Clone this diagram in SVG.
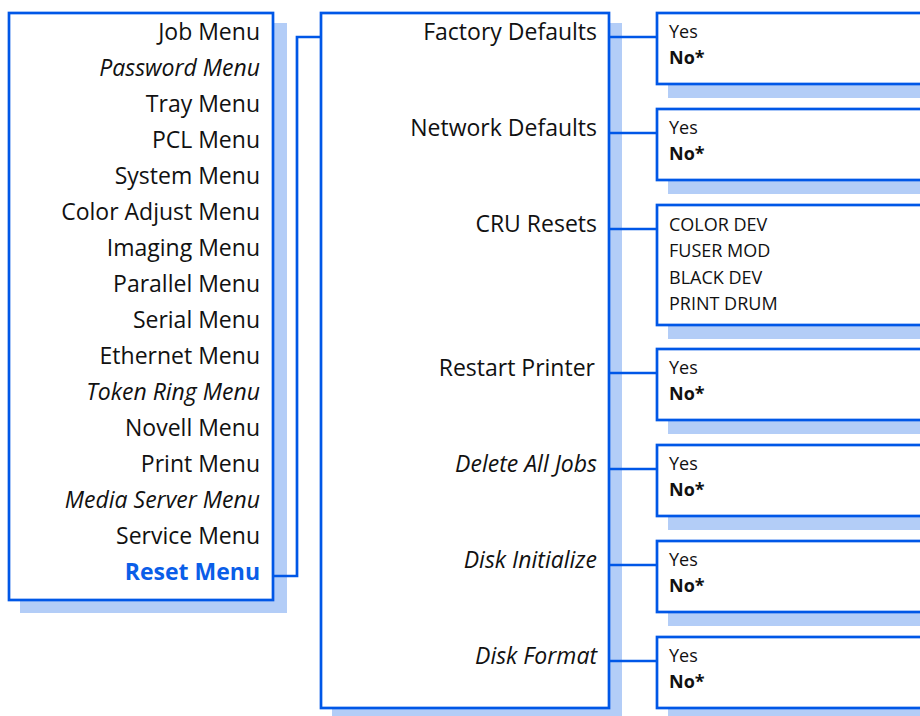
<svg xmlns="http://www.w3.org/2000/svg" width="920" height="716" viewBox="0 0 920 716">
<style>
.shadow{fill:#b3cdf7;stroke:none}
.box{fill:#fff;stroke:#0057e7;stroke-width:2.7}
.conn{fill:none;stroke:#0057e7;stroke-width:2.7}
text{font-family:"Open Sans","Noto Sans","Liberation Sans",sans-serif;fill:#111}
.menu{font-size:23px;text-anchor:end}
.opt{font-size:18px}
.it{font-style:italic}
.b{font-weight:bold}
.sel{fill:#0a5ee8;font-weight:bold}
</style>
<rect width="920" height="716" fill="#fff"/>
<g id="main-menu">
<rect class="shadow" x="20" y="23" width="267" height="590"/>
<rect class="box" x="9" y="13" width="264" height="587"/>
<text class="menu" x="260" y="40">Job Menu</text>
<text class="menu it" x="260" y="76">Password Menu</text>
<text class="menu" x="260" y="112">Tray Menu</text>
<text class="menu" x="260" y="148">PCL Menu</text>
<text class="menu" x="260" y="184">System Menu</text>
<text class="menu" x="260" y="220">Color Adjust Menu</text>
<text class="menu" x="260" y="256">Imaging Menu</text>
<text class="menu" x="260" y="292">Parallel Menu</text>
<text class="menu" x="260" y="328">Serial Menu</text>
<text class="menu" x="260" y="364">Ethernet Menu</text>
<text class="menu it" x="260" y="400">Token Ring Menu</text>
<text class="menu" x="260" y="436">Novell Menu</text>
<text class="menu" x="260" y="472">Print Menu</text>
<text class="menu it" x="260" y="508">Media Server Menu</text>
<text class="menu" x="260" y="544">Service Menu</text>
<text class="menu sel" x="260" y="580">Reset Menu</text>
</g>
<g id="reset-menu">
<rect class="shadow" x="332" y="23" width="290" height="710"/>
<rect class="box" x="321" y="13" width="288" height="695"/>
<text class="menu" x="597" y="40">Factory Defaults</text>
<text class="menu" x="597" y="136">Network Defaults</text>
<text class="menu" x="597" y="232">CRU Resets</text>
<text class="menu" x="595" y="376">Restart Printer</text>
<text class="menu it" x="597" y="472">Delete All Jobs</text>
<text class="menu it" x="597" y="568">Disk Initialize</text>
<text class="menu it" x="597" y="664">Disk Format</text>
</g>
<g id="opt-factory">
<rect class="shadow" x="668" y="85" width="270" height="13"/>
<rect class="box" x="657" y="13" width="280" height="71"/>
<text class="opt" x="669" y="38">Yes</text>
<text class="opt b" x="669" y="64">No*</text>
</g>
<g id="opt-network">
<rect class="shadow" x="668" y="181" width="270" height="13"/>
<rect class="box" x="657" y="109" width="280" height="71"/>
<text class="opt" x="669" y="134">Yes</text>
<text class="opt b" x="669" y="160">No*</text>
</g>
<g id="opt-cru">
<rect class="shadow" x="668" y="326" width="270" height="13"/>
<rect class="box" x="657" y="205" width="280" height="120"/>
<text class="opt" x="669" y="231">COLOR DEV</text>
<text class="opt" x="669" y="257">FUSER MOD</text>
<text class="opt" x="669" y="284">BLACK DEV</text>
<text class="opt" x="669" y="310">PRINT DRUM</text>
</g>
<g id="opt-restart">
<rect class="shadow" x="668" y="421" width="270" height="13"/>
<rect class="box" x="657" y="349" width="280" height="71"/>
<text class="opt" x="669" y="374">Yes</text>
<text class="opt b" x="669" y="400">No*</text>
</g>
<g id="opt-delete">
<rect class="shadow" x="668" y="517" width="270" height="13"/>
<rect class="box" x="657" y="445" width="280" height="71"/>
<text class="opt" x="669" y="470">Yes</text>
<text class="opt b" x="669" y="496">No*</text>
</g>
<g id="opt-init">
<rect class="shadow" x="668" y="613" width="270" height="13"/>
<rect class="box" x="657" y="541" width="280" height="71"/>
<text class="opt" x="669" y="566">Yes</text>
<text class="opt b" x="669" y="592">No*</text>
</g>
<g id="opt-format">
<rect class="shadow" x="668" y="709" width="270" height="13"/>
<rect class="box" x="657" y="637" width="280" height="71"/>
<text class="opt" x="669" y="662">Yes</text>
<text class="opt b" x="669" y="688">No*</text>
</g>
<g id="connectors">
<polyline class="conn" points="274,576 297,576 297,37 321,37"/>
<line class="conn" x1="610" y1="37" x2="657" y2="37"/>
<line class="conn" x1="610" y1="133" x2="657" y2="133"/>
<line class="conn" x1="610" y1="229" x2="657" y2="229"/>
<line class="conn" x1="610" y1="373" x2="657" y2="373"/>
<line class="conn" x1="610" y1="469" x2="657" y2="469"/>
<line class="conn" x1="610" y1="565" x2="657" y2="565"/>
<line class="conn" x1="610" y1="661" x2="657" y2="661"/>
</g>
</svg>
